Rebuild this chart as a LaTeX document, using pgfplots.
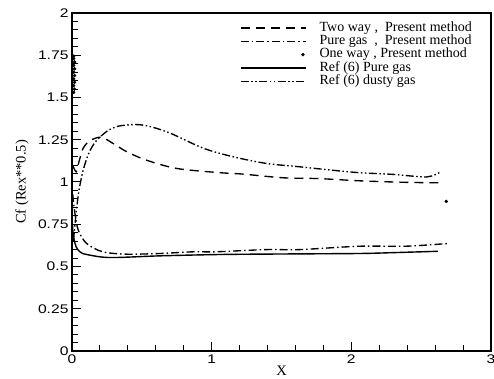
\documentclass[border=0pt]{standalone}
\usepackage{fontspec}
\setmainfont{Liberation Serif}
\newfontfamily\tickfont[FakeStretch=1.25]{Liberation Sans}
\usepackage{pgfplots}
\pgfplotsset{compat=1.18}
\begin{document}
\begin{tikzpicture}
\useasboundingbox (-72pt,-28pt) rectangle (422pt,351pt);
\begin{axis}[
  scale only axis,
  width=419pt, height=338pt,
  xmin=0, xmax=3, ymin=0, ymax=2,
  xtick={0,1,2,3}, ytick={0,0.25,0.5,0.75,1,1.25,1.5,1.75,2},
  minor x tick num=4, minor y tick num=4,
  tick align=inside, xtick pos=bottom, ytick pos=left,
  major tick length=9pt, minor tick length=6pt,
  every tick/.style={black, line width=1pt},
  axis line style={line width=1.6pt},
  /pgf/number format/assume math mode=true,
  tick label style={font=\tickfont\fontsize{12.5}{12.5}\selectfont},
  xlabel={X}, ylabel={Cf (Rex**0.5)},
  label style={font=\fontsize{14.5}{14.5}\selectfont},
  xlabel style={at={(axis description cs:0.5,-0.057)}, anchor=center},
  ylabel style={at={(axis description cs:-0.119,0.5)}, anchor=center, rotate=0},
  legend cell align=left,
  legend style={at={(axis description cs:0.401,0.973)}, anchor=north west,
    draw=none, fill=none, inner sep=0pt,
    font=\fontsize{14}{14}\selectfont,
    nodes={inner sep=0pt, text height=9pt, text depth=2.5pt},
    row sep=1.8pt, column sep=13pt},
  legend image code/.code={\draw[#1] (0pt,0pt) -- (65pt,0pt);},
]
% Two way, present method (dashed)
\addplot[black, line width=1.35pt, dash pattern=on 9pt off 6pt, smooth] coordinates {
(0.005,1.10) (0.03,1.06) (0.05,1.12) (0.08,1.20) (0.13,1.245) (0.21,1.265)
(0.30,1.225) (0.39,1.18) (0.53,1.13) (0.75,1.08) (1.06,1.055) (1.22,1.047)
(1.51,1.025) (1.77,1.02) (2.06,1.007) (2.39,0.998) (2.64,0.995)};
\addlegendentry{Two way ,\ \ Present method}
% Pure gas, present method (dash-dot)
\addplot[black, line width=1.35pt, dash pattern=on 8pt off 3pt on 1.5pt off 3pt, smooth] coordinates {
(0.005,0.93) (0.02,0.82) (0.045,0.715) (0.105,0.636) (0.22,0.587) (0.39,0.573)
(0.63,0.577) (0.87,0.587) (1.03,0.587) (1.39,0.60) (1.63,0.60) (2.06,0.62)
(2.39,0.62) (2.69,0.636)};
\addlegendentry{Pure gas\ \ ,\ \ Present method}
% One way, present method (dots)
\addplot[black, only marks, mark=*, mark size=1.5pt,
  legend image code/.code={\fill (62pt,0pt) circle (1.5pt);}] coordinates {
(0.012,1.53) (0.018,1.55) (0.012,1.57) (0.018,1.59) (0.012,1.61) (0.018,1.63)
(0.012,1.65) (0.018,1.67) (0.012,1.69) (0.018,1.71) (0.012,1.73) (0.012,1.745)
(2.68,0.885)};
\addlegendentry{One way , Present method}
% Ref (6) pure gas (solid)
\addplot[black, line width=1.4pt, smooth] coordinates {
(0.003,0.75) (0.01,0.68) (0.03,0.616) (0.06,0.585) (0.105,0.571) (0.27,0.553)
(0.63,0.563) (1.06,0.571) (1.5,0.574) (2.06,0.577) (2.3,0.582) (2.62,0.59)};
\addlegendentry{Ref (6) Pure gas}
% Ref (6) dusty gas (dash-dot-dot)
\addplot[black, line width=1.35pt, dash pattern=on 8pt off 2.5pt on 1.5pt off 2.5pt on 1.5pt off 2.5pt, smooth] coordinates {
(0.01,0.65) (0.03,0.82) (0.05,0.95) (0.08,1.07) (0.12,1.17) (0.17,1.24)
(0.25,1.30) (0.33,1.33) (0.45,1.34) (0.55,1.33) (0.70,1.29) (0.94,1.20)
(1.15,1.15) (1.39,1.11) (1.63,1.09) (1.86,1.07) (2.06,1.055) (2.30,1.045)
(2.54,1.03) (2.64,1.06)};
\addlegendentry{Ref (6) dusty gas}
\end{axis}
\end{tikzpicture}
\end{document}
